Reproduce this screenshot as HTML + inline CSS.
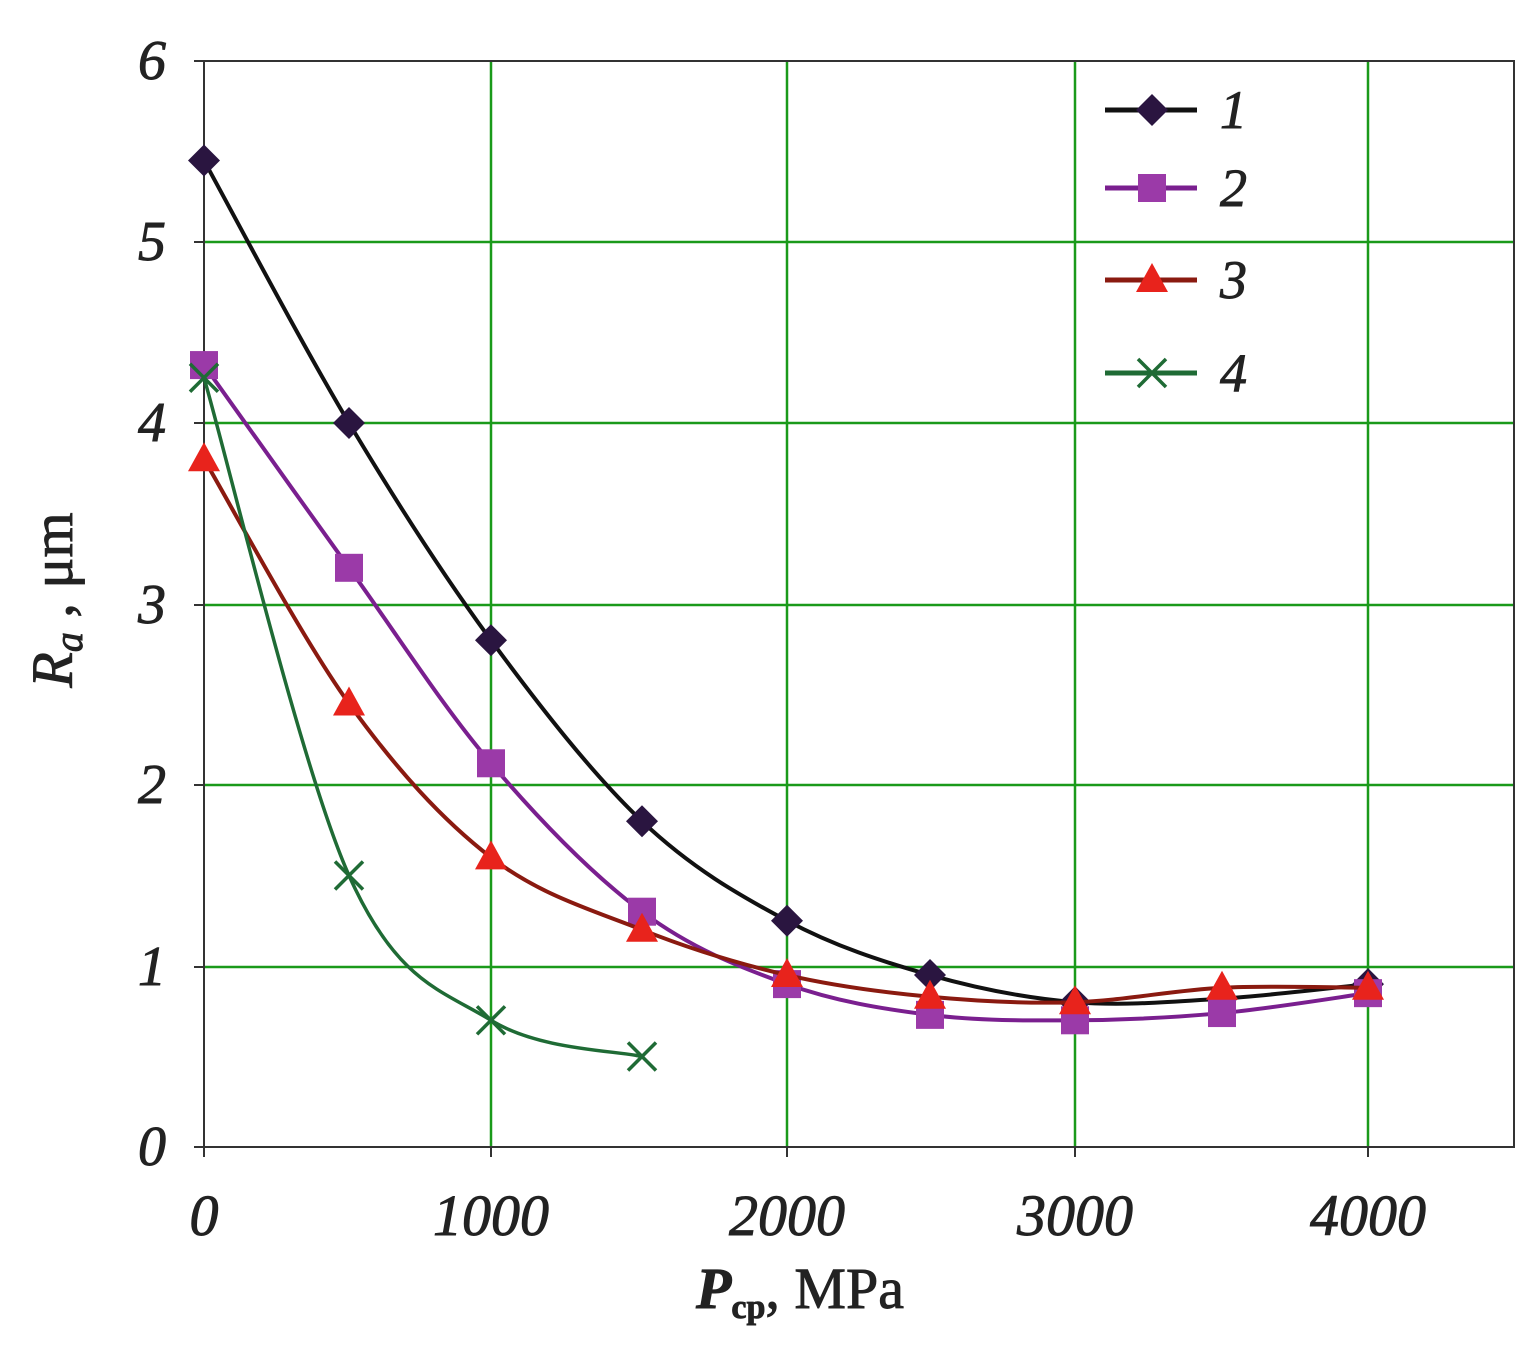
<!DOCTYPE html>
<html><head><meta charset="utf-8">
<style>
html,body{margin:0;padding:0;background:#fff;}
svg{display:block;}
text{font-family:"Liberation Serif",serif;font-style:italic;fill:#222;stroke:#222;stroke-width:0.9;}
</style></head>
<body>
<svg id="s" width="1538" height="1359" viewBox="0 0 1538 1359" xmlns="http://www.w3.org/2000/svg">
<g stroke="#1a9a1a" stroke-width="2.5">
<line x1="491" y1="61" x2="491" y2="1147"/>
<line x1="787" y1="61" x2="787" y2="1147"/>
<line x1="1075" y1="61" x2="1075" y2="1147"/>
<line x1="1368" y1="61" x2="1368" y2="1147"/>
<line x1="204" y1="242" x2="1514" y2="242"/>
<line x1="204" y1="423" x2="1514" y2="423"/>
<line x1="204" y1="605" x2="1514" y2="605"/>
<line x1="204" y1="785" x2="1514" y2="785"/>
<line x1="204" y1="967" x2="1514" y2="967"/>
</g>
<rect x="204" y="61" width="1310" height="1086" fill="none" stroke="#333" stroke-width="2"/>
<g stroke="#333" stroke-width="2">
<line x1="194" y1="61" x2="204" y2="61"/><line x1="194" y1="242" x2="204" y2="242"/>
<line x1="194" y1="423" x2="204" y2="423"/><line x1="194" y1="605" x2="204" y2="605"/>
<line x1="194" y1="785" x2="204" y2="785"/><line x1="194" y1="967" x2="204" y2="967"/>
<line x1="194" y1="1147" x2="204" y2="1147"/>
<line x1="204" y1="1147" x2="204" y2="1157"/><line x1="491" y1="1147" x2="491" y2="1157"/>
<line x1="787" y1="1147" x2="787" y2="1157"/><line x1="1075" y1="1147" x2="1075" y2="1157"/>
<line x1="1368" y1="1147" x2="1368" y2="1157"/>
</g>
<g font-size="56" text-anchor="end">
<text x="166" y="79">6</text><text x="166" y="260">5</text><text x="166" y="441">4</text>
<text x="166" y="623">3</text><text x="166" y="803">2</text><text x="166" y="985">1</text>
<text x="166" y="1165">0</text>
</g>
<g font-size="58" text-anchor="middle">
<text x="204" y="1235">0</text><text x="491" y="1235">1000</text><text x="787" y="1235">2000</text>
<text x="1075" y="1235">3000</text><text x="1368" y="1235">4000</text>
</g>
<text transform="translate(72,600) rotate(-90)" font-size="58" text-anchor="middle">R<tspan font-size="40" dy="10">a</tspan><tspan dy="-10" font-style="normal"> ,  μm</tspan></text>
<text x="800" y="1308" font-size="58" text-anchor="middle" font-weight="bold">P<tspan font-size="34" dy="10" font-style="normal">cp</tspan><tspan dy="-10" font-style="normal" font-weight="normal">,  MPa</tspan></text>
<g id="series"></g>
<g font-size="54">
<text x="1220" y="128">1</text><text x="1220" y="206">2</text><text x="1220" y="298">3</text><text x="1220" y="391">4</text>
</g>
</svg>
<script>
var xs=[204,349,491,642,787,930,1075,1222,1368];
function Y(v){return 1147-v*181;}
var S=[
 {c:"#111",m:"d",mc:"#2a1540",v:[5.45,4.0,2.8,1.8,1.25,0.95,0.8,0.82,0.9],ly:110},
 {c:"#7a1f8f",m:"s",mc:"#9b3aa8",v:[4.32,3.2,2.12,1.3,0.9,0.73,0.7,0.74,0.85],ly:188},
 {c:"#8a1a10",m:"t",mc:"#e8231c",v:[3.8,2.45,1.6,1.2,0.95,0.83,0.8,0.88,0.88],ly:280},
 {c:"#1f6b35",m:"x",mc:"#1f6b35",v:[4.25,1.5,0.7,0.5],ly:373}
];
var g=document.getElementById("series"),NS="http://www.w3.org/2000/svg";
function el(t,a){var e=document.createElementNS(NS,t);for(var k in a)e.setAttribute(k,a[k]);g.appendChild(e);return e;}
function mk(type,x,y,c){
 if(type=="d")el("polygon",{points:(x)+","+(y-16)+" "+(x+16)+","+y+" "+x+","+(y+16)+" "+(x-16)+","+y,fill:c});
 else if(type=="s")el("rect",{x:x-14,y:y-14,width:28,height:28,fill:c});
 else if(type=="t")el("polygon",{points:x+","+(y-17)+" "+(x+16)+","+(y+12)+" "+(x-16)+","+(y+12),fill:c});
 else {el("line",{x1:x-14,y1:y-14,x2:x+14,y2:y+14,stroke:c,"stroke-width":3.5});el("line",{x1:x-14,y1:y+14,x2:x+14,y2:y-14,stroke:c,"stroke-width":3.5});}
}
S.forEach(function(s){
 var p=s.v.map(function(v,i){return [xs[i],Y(v)];});
 var d="M"+p[0][0]+","+p[0][1];
 for(var i=0;i<p.length-1;i++){
  var p0=p[i-1]||p[i],p1=p[i],p2=p[i+1],p3=p[i+2]||p2;
  var c1=[p1[0]+(p2[0]-p0[0])/6,p1[1]+(p2[1]-p0[1])/6],c2=[p2[0]-(p3[0]-p1[0])/6,p2[1]-(p3[1]-p1[1])/6];
  d+=" C"+c1+" "+c2+" "+p2;
 }
 el("path",{d:d,fill:"none",stroke:s.c,"stroke-width":s.m=="x"?3.5:4});
 p.forEach(function(q){mk(s.m,q[0],q[1],s.mc);});
 el("line",{x1:1105,y1:s.ly,x2:1197,y2:s.ly,stroke:s.c,"stroke-width":5});
 mk(s.m,1152,s.ly,s.mc);
});
</script>
</body></html>
